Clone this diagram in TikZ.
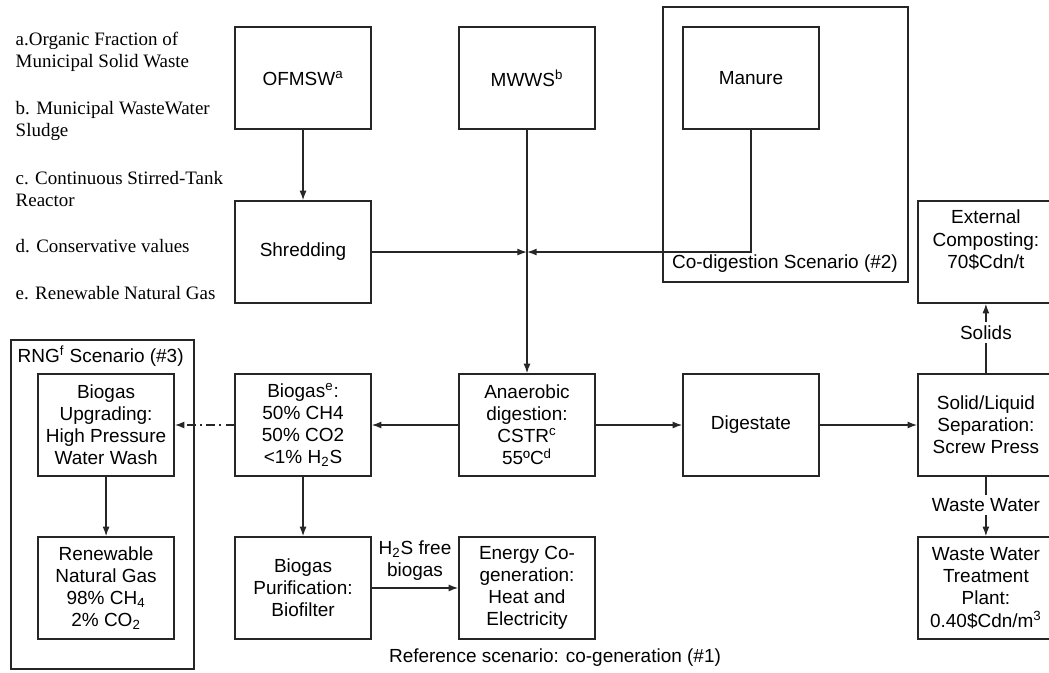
\documentclass[tikz,border=0pt]{standalone}
\usepackage{fontspec}
\setmainfont{Liberation Sans}
\newfontfamily\legendfont{Liberation Serif}
\usepackage{tikz}
\usetikzlibrary{positioning, arrows.meta}

\newcommand{\diagfont}{\fontsize{10.8}{12.6}\selectfont}

\tikzset{
    box/.style={draw=black!85, line width=0.8pt, minimum width=2.72cm, minimum height=2.04cm,
        align=center, inner sep=1pt, font=\diagfont},
    frame/.style={draw=black!85, line width=0.8pt},
    legend/.style={anchor=west, align=left, inner sep=0pt, font=\legendfont\diagfont},
    flowlabel/.style={fill=white, inner sep=2pt, anchor=center, font=\diagfont}
}

\begin{document}
\begin{tikzpicture}[x=0.02cm, y=-0.02cm, on grid, auto,
    >={Latex[length=5.5pt, width=4pt]}, line width=0.8pt, draw=black!85]
    \useasboundingbox (0,0) rectangle (1049,673);

    % footnotes
    \node[legend] (lega) at (15,52) {a.Organic Fraction of\\Municipal Solid Waste};
    \node[legend] (legb) at (15,121) {b. Municipal WasteWater\\Sludge};
    \node[legend] (legc) at (15,189) {c. Continuous Stirred-Tank\\Reactor};
    \node[legend] (legd) at (15,246) {d. Conservative values};
    \node[legend] (lege) at (15,293) {e. Renewable Natural Gas};

    % main chain
    \node[box] (ad) at (527,425) {Anaerobic\\digestion:\\CSTR\textsuperscript{c}\\55ºC\textsuperscript{d}};
    \node[box, left=4.48cm of ad] (biogas) {Biogas\textsuperscript{e}:\\50\% CH4\\50\% CO2\\<1\% H\textsubscript{2}S};
    \node[box, left=3.94cm of biogas] (upgrade) {Biogas\\Upgrading:\\High Pressure\\Water Wash};
    \node[box, right=4.48cm of ad] (digest) {Digestate};
    \node[box, right=4.7cm of digest] (sep) {Solid/Liquid\\Separation:\\Screw Press};

    % feedstocks
    \node[box, above=6.94cm of ad] (mwws) {MWWS\textsuperscript{b}};
    \node[box, left=4.48cm of mwws] (ofmsw) {OFMSW\textsuperscript{a}};
    \node[box, right=4.48cm of mwws] (manure) {Manure};
    \node[box, below=3.48cm of ofmsw] (shred) {Shredding};
    \node[box, above=3.46cm of sep] (extcomp) {External\\Composting:\\70\$Cdn/t\\[2pt]};

    % products
    \node[box, below=3.26cm of upgrade] (rng) {Renewable\\Natural Gas\\98\% CH\textsubscript{4}\\2\% CO\textsubscript{2}};
    \node[box, below=3.26cm of biogas] (purif) {Biogas\\Purification:\\Biofilter};
    \node[box, below=3.26cm of ad] (energy) {Energy Co-\\generation:\\Heat and\\Electricity};
    \node[box, below=3.26cm of sep] (wwtp) {Waste Water\\Treatment\\Plant:\\0.40\$Cdn/m\textsuperscript{3}};

    % scenario frames
    \draw[frame] (663,7) rectangle (908,282);
    \node[font=\diagfont] (codig) at (785,264) {Co-digestion Scenario (\#2)};
    \draw[frame] (11,340) rectangle (194,669);
    \node[font=\diagfont, anchor=west, inner sep=0pt] (rngsc) at (17,356) {RNG\textsuperscript{f} Scenario (\#3)};
    \node[font=\diagfont] (refsc) at (555,658) {Reference scenario: co-generation (\#1)};

    \coordinate (join) at (mwws.south |- shred.east);

    \path[->]
        (ofmsw) edge (shred)
        (shred) edge (join)
        (mwws) edge (ad)
        (ad) edge (biogas)
        (ad) edge (digest)
        (digest) edge (sep)
        (biogas) edge (purif)
        (upgrade) edge (rng)
        (purif) edge node[font=\diagfont, align=center, inner sep=2pt, yshift=0.06cm] {H\textsubscript{2}S free\\biogas} (energy)
        (sep) edge node[flowlabel, pos=0.58] {Solids} (extcomp)
        (sep) edge node[flowlabel, pos=0.48] {Waste Water} (wwtp);
    \draw[->] (manure.south) |- (join);
    \draw[->, dash pattern=on 5pt off 2.5pt on 1pt off 2.5pt] (biogas) -- (upgrade);
\end{tikzpicture}
\end{document}
